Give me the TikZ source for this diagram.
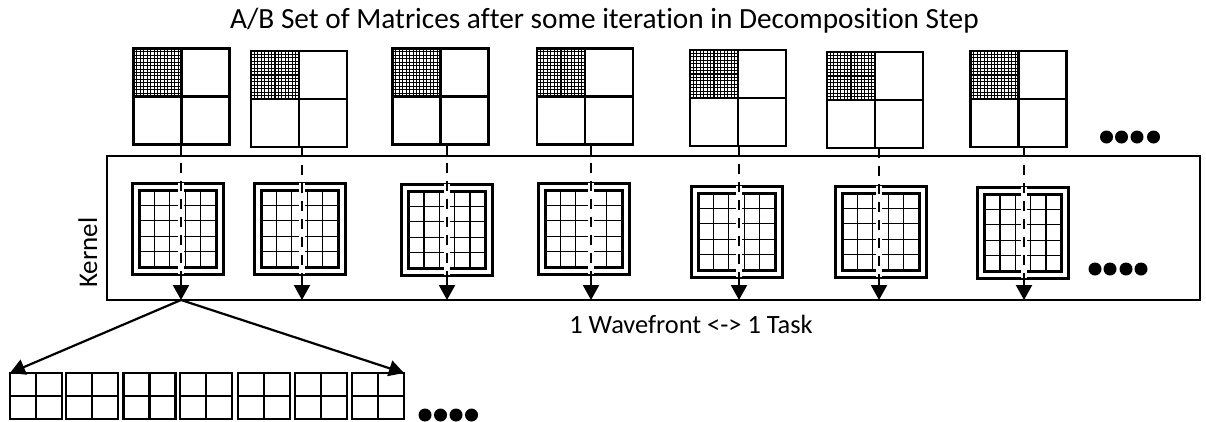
\documentclass[tikz,border=0pt]{standalone}
\usepackage{fontspec}
\setmainfont{Carlito}[Ligatures=NoCommon]
\usetikzlibrary{arrows.meta,calc}

\begin{document}
\begin{tikzpicture}[x=1pt,y=-1pt,
  topmat/.style={draw, line width=2.8pt, inner sep=0pt, outer sep=0pt,
                 minimum width=96pt, minimum height=96pt},
  quadline/.style={line width=2.8pt},
  hatch/.style={line width=1.1pt},
  outerbox/.style={draw, line width=3pt, inner sep=0pt, outer sep=0pt,
                   minimum width=91pt, minimum height=91pt},
  innerbox/.style={draw, line width=3pt, inner sep=0pt, outer sep=0pt,
                   minimum width=77pt, minimum height=77pt},
  cellline/.style={line width=1.3pt},
  smallmat/.style={draw, line width=2.5pt, inner sep=0pt, outer sep=0pt,
                   minimum width=52pt, minimum height=46pt},
  kernelbox/.style={draw, line width=2pt, inner sep=0pt, outer sep=0pt,
                    minimum width=1093pt, minimum height=144pt},
  casing/.style={white, line width=6pt},
  dashline/.style={line width=2.8pt, dash pattern=on 10pt off 8pt},
  arrowline/.style={line width=2.2pt, -{Triangle[width=16pt,length=15pt]}},
  dot/.style={circle, fill, inner sep=0pt, minimum size=13pt},
  label/.style={font=\fontsize{27}{30}\selectfont, inner sep=0pt}
]
\useasboundingbox (0,0) rectangle (1206,421);

% title
\node[label, anchor=base west, font=\fontsize{29.3}{33}\selectfont] (title) at (230,28)
  {A/B Set of Matrices after some iteration in Decomposition Step};

% 2x2 block matrices with a finely gridded upper-left block
\foreach \n/\cx/\cy in {1/181.5/96.5, 2/299/99, 3/440.5/96.5, 4/585/96.5,
                        5/738/98, 6/875/100, 7/1018.5/99} {
  \node[topmat] (t\n) at (\cx,\cy) {};
  \foreach \k in {1,...,13} {
    \draw[hatch] ($(t\n.north west)!\k/14!(t\n.north)$) -- ($(t\n.west)!\k/14!(t\n.center)$);
    \draw[hatch] ($(t\n.north west)!\k/14!(t\n.west)$) -- ($(t\n.north)!\k/14!(t\n.center)$);
  }
  \draw[quadline] (t\n.north) -- (t\n.south);
  \draw[quadline] (t\n.west) -- (t\n.east);
}

% kernel work-groups: framed 5x5 blocks
\foreach \n/\cx/\cy in {1/177.5/228.5, 2/299.5/228.5, 3/447/229.5, 4/583.5/228.5,
                        5/736.5/231.5, 6/880.5/231.5, 7/1023/232.5} {
  \node[outerbox] (m\n) at (\cx,\cy) {};
  \node[innerbox] (i\n) at (\cx,\cy) {};
  \foreach \k in {1,...,4} {
    \draw[cellline] ($(i\n.north west)!\k/5!(i\n.north east)$) -- ($(i\n.south west)!\k/5!(i\n.south east)$);
    \draw[cellline] ($(i\n.north west)!\k/5!(i\n.south west)$) -- ($(i\n.north east)!\k/5!(i\n.south east)$);
  }
}

\node[kernelbox] (kernel) at (653.5,228) {};

% wavefront lines: dashed through the block, solid arrow to the kernel edge
\foreach \n/\ax in {1/181, 2/302, 3/447, 4/591, 5/739, 6/879, 7/1024} {
  \coordinate (a\n) at (\ax,0);
  \draw[casing] (a\n |- m\n.north) -- (a\n |- m\n.south);
  \draw[dashline] (a\n |- t\n.south) -- (a\n |- m\n.south);
  \draw[arrowline] (a\n |- m\n.south) -- (a\n |- kernel.south);
}

\node[kernelbox] at (kernel) {};

% small 2x2 task blocks
\foreach \n/\cx in {1/36, 2/92, 3/149.5, 4/206, 5/264, 6/321, 7/378} {
  \node[smallmat] (b\n) at (\cx,396) {};
  \draw[line width=2.5pt] (b\n.north) -- (b\n.south);
  \draw[line width=2.5pt] (b\n.west) -- (b\n.east);
}

\coordinate (fan) at (a1 |- kernel.south);
\draw[arrowline] (fan) -- (b1.north west);
\draw[arrowline] (fan) -- (b7.north east);

% continuation dots
\foreach \k/\x in {1/1106.5, 2/1121.5, 3/1137, 4/1153.5} {
  \node[dot] (dt\k) at (\x,137) {};
}
\foreach \k/\x in {1/1095, 2/1110, 3/1126, 4/1141} {
  \node[dot] (dm\k) at (\x,269) {};
}
\foreach \k/\x in {1/425, 2/440.5, 3/456, 4/471.5} {
  \node[dot] (db\k) at (\x,415) {};
}

% labels
\node[label, rotate=90, anchor=base] (kernellabel) at (97,252.5) {Kernel};
\node[label, anchor=base, font=\fontsize{26.4}{30}\selectfont] (wave) at (691,333)
  {1 Wavefront <-> 1 Task};
\end{tikzpicture}
\end{document}
